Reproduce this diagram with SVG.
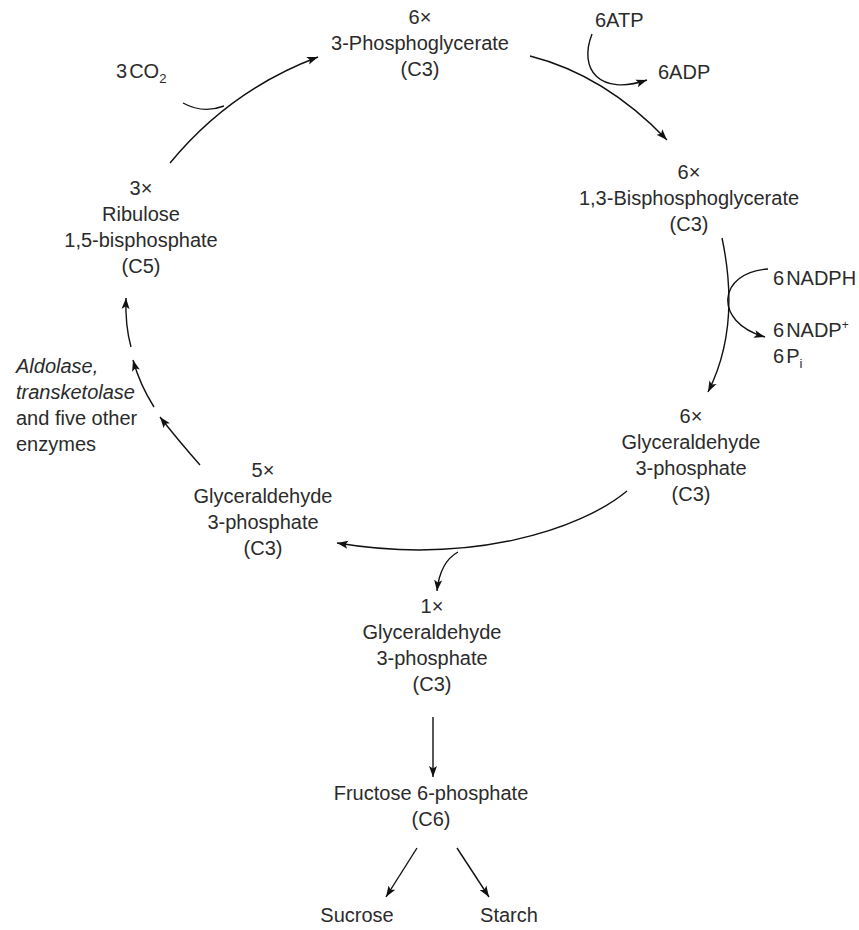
<svg xmlns="http://www.w3.org/2000/svg" width="859" height="930" viewBox="0 0 859 930">
<defs>
<style>
text{font-family:"Liberation Sans",Arial,sans-serif;font-size:20px;fill:#2b2b2b}
.c{text-anchor:middle}
.i{font-style:italic}
.ln{fill:none;stroke:#111;stroke-width:1.4;marker-end:url(#ah)}
.hk{fill:none;stroke:#111;stroke-width:1.4}
</style>
<marker id="ah" markerUnits="userSpaceOnUse" markerWidth="12" markerHeight="10" viewBox="0 0 12 10" refX="11" refY="5" orient="auto">
<path d="M0,1 L11,5 L0,9 L2.5,5 z" fill="#111"/>
</marker>
</defs>
<rect width="859" height="930" fill="#fff"/>

<g id="connectors">
<path class="ln" d="M170,163 Q230,90 318,57"/>
<path class="hk" d="M183,103 Q203,114 224,106"/>
<path class="ln" d="M530,56 Q605,75 667,140"/>
<path class="ln" d="M592,34 C578,70 600,96 647,80"/>
<path class="ln" d="M722,238 C733,290 732,345 708,392"/>
<path class="ln" d="M768,269 C718,272 712,322 765,337"/>
<path class="ln" d="M627,491 C580,530 470,565 337,543"/>
<path class="ln" d="M458,552 Q440,562 437,591"/>
<path class="ln" d="M200,465 Q178,440 160,417"/>
<path class="ln" d="M154,407 Q140,385 133,360"/>
<path class="ln" d="M131,347 Q125,325 126,298"/>
<path class="ln" d="M433,717 L433,777"/>
<path class="ln" d="M417,848 L386,897"/>
<path class="ln" d="M457,848 L489,897"/>
</g>

<g id="pga">
<text class="c" x="420" y="24">6×</text>
<text class="c" x="420" y="50">3-Phosphoglycerate</text>
<text class="c" x="420" y="76">(C3)</text>
</g>
<g id="bpg">
<text class="c" x="689" y="179">6×</text>
<text class="c" x="689" y="205">1,3-Bisphosphoglycerate</text>
<text class="c" x="689" y="231">(C3)</text>
</g>
<g id="g3p6">
<text class="c" x="691" y="423">6×</text>
<text class="c" x="691" y="449">Glyceraldehyde</text>
<text class="c" x="691" y="475">3-phosphate</text>
<text class="c" x="691" y="501">(C3)</text>
</g>
<g id="g3p5">
<text class="c" x="263" y="477">5×</text>
<text class="c" x="263" y="503">Glyceraldehyde</text>
<text class="c" x="263" y="529">3-phosphate</text>
<text class="c" x="263" y="555">(C3)</text>
</g>
<g id="g3p1">
<text class="c" x="432" y="613">1×</text>
<text class="c" x="432" y="639">Glyceraldehyde</text>
<text class="c" x="432" y="665">3-phosphate</text>
<text class="c" x="432" y="691">(C3)</text>
</g>
<g id="f6p">
<text class="c" x="431" y="800">Fructose 6-phosphate</text>
<text class="c" x="431" y="826">(C6)</text>
</g>
<g id="sucrose"><text class="c" x="357" y="922">Sucrose</text></g>
<g id="starch"><text class="c" x="509" y="922">Starch</text></g>
<g id="rubp">
<text class="c" x="141" y="195">3×</text>
<text class="c" x="141" y="221">Ribulose</text>
<text class="c" x="141" y="247">1,5-bisphosphate</text>
<text class="c" x="141" y="273">(C5)</text>
</g>
<g id="enzymes">
<text class="i" x="16" y="373">Aldolase,</text>
<text class="i" x="16" y="399">transketolase</text>
<text x="16" y="425">and five other</text>
<text x="16" y="451">enzymes</text>
</g>
<g id="co2"><text x="116" y="78">3<tspan dx="2">CO</tspan><tspan font-size="13" dy="5">2</tspan></text></g>
<g id="atp"><text x="595" y="27">6ATP</text></g>
<g id="adp"><text x="658" y="79">6ADP</text></g>
<g id="nadph"><text x="773" y="285">6<tspan dx="2">NADPH</tspan></text></g>
<g id="nadp"><text x="773" y="337">6<tspan dx="2">NADP</tspan><tspan font-size="12" dy="-8">+</tspan></text>
<text x="773" y="363">6<tspan dx="2">P</tspan><tspan font-size="13" dy="5">i</tspan></text></g>
</svg>
